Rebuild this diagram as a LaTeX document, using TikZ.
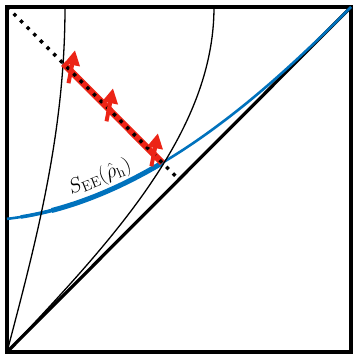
\documentclass[tikz,border=0pt]{standalone}
\usetikzlibrary{arrows.meta, calc}

\definecolor{eeblue}{RGB}{0,114,189}
\definecolor{flowred}{RGB}{236,36,22}

\begin{document}
\begin{tikzpicture}[
    x=1pt, y=-1pt,
    frame/.style={line width=3.2pt},
    thinline/.style={line width=1.3pt},
    blueline/.style={eeblue, line width=2.6pt},
    bluethick/.style={eeblue, line width=#1},
    dotline/.style={line width=3.4pt, dash pattern=on 3.4pt off 6pt},
    redline/.style={flowred, line width=6.5pt},
    redarrow/.style={flowred, line width=4pt, -{Triangle[width=15pt,length=15pt]}},
    eelabel/.style={font=\huge, inner sep=0pt}
]
  \useasboundingbox (0,0) rectangle (355,354);

  \coordinate (bl) at (7,352);
  \coordinate (tl) at (7,7);
  \coordinate (tr) at (351,7);
  \coordinate (br) at (351,352);
  \coordinate (mid) at (179,179.5);

  \draw[frame] (tl) rectangle (br);
  \draw[frame] (bl) -- (tr);

  % entanglement curve
  \draw[blueline] plot[domain=0:0.999, samples=90, variable=\u]
    ({7+344*\u}, {352-345*(\u+0.386*(1-\u)^2.3)}) -- (tr);
  \draw[bluethick=3.6pt] plot[domain=0.04:0.4515, samples=40, variable=\u]
    ({7+344*\u}, {352-345*(\u+0.386*(1-\u)^2.3)});
  \draw[bluethick=5pt] plot[domain=0.13:0.4515, samples=40, variable=\u]
    ({7+344*\u}, {352-345*(\u+0.386*(1-\u)^2.3)});

  % the two thin curves
  \draw[thinline] plot[domain=0:1, samples=60, variable=\s]
    ({7+58*sin(90*\s)}, {352-345*\s});
  \draw[thinline] plot[domain=0:1, samples=80, variable=\s]
    ({7+207*sin(90*\s)}, {352-345*\s});

  \coordinate (rs) at (63.4,63.6);
  \coordinate (re) at (162.3,162.8);
  \draw[redline] (rs) -- (re);
  \draw[dotline] (tl) -- (mid);

  \coordinate (p1) at (71,71.2);
  \coordinate (p2) at (109,109.3);
  \coordinate (p3) at (153.9,154.3);
  \foreach \p in {p1,p2,p3}
    \draw[redarrow] ($(\p)+(-2.5,12)$) -- ($(\p)+(4,-21)$);

  \node[eelabel, rotate=22] (see) at (100,177) {$S_{\mathrm{EE}}(\hat{\rho}_{\mathrm{h}})$};
\end{tikzpicture}
\end{document}
